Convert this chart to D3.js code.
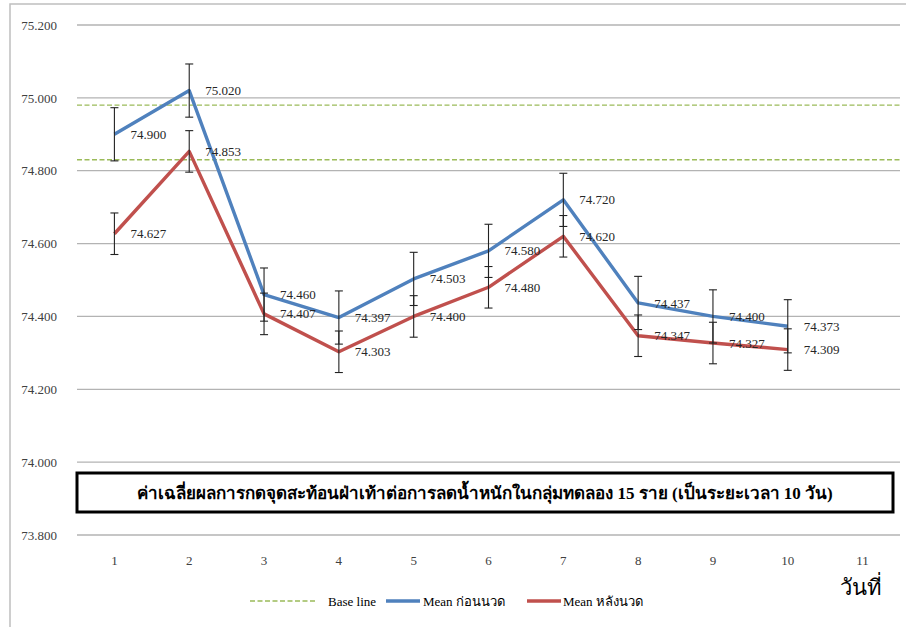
<!DOCTYPE html>
<html><head><meta charset="utf-8">
<script src="https://cdn.jsdelivr.net/npm/d3@7"></script>
<style>
html,body{margin:0;padding:0;background:#fff;}
svg{display:block;}
text{font-family:"Liberation Serif","Times New Roman",serif;}
</style></head>
<body>
<svg id="chart" width="906" height="627"></svg>
<script>
const days = ["1","2","3","4","5","6","7","8","9","10","11"];
const meanBefore = [74.900, 75.020, 74.460, 74.397, 74.503, 74.580, 74.720, 74.437, 74.400, 74.373];
const meanAfter  = [74.627, 74.853, 74.407, 74.303, 74.400, 74.480, 74.620, 74.347, 74.327, 74.309];
const errBefore  = [0.073, 0.073, 0.073, 0.073, 0.073, 0.073, 0.073, 0.073, 0.073, 0.073];
const errAfter   = [0.057, 0.057, 0.057, 0.057, 0.057, 0.057, 0.057, 0.057, 0.057, 0.057];
const baseLines  = [74.98, 74.83];
const yTicks     = [73.8, 74.0, 74.2, 74.4, 74.6, 74.8, 75.0, 75.2];
const titleText  = "ค่าเฉลี่ยผลการกดจุดสะท้อนฝ่าเท้าต่อการลดน้ำหนักในกลุ่มทดลอง 15 ราย (เป็นระยะเวลา 10 วัน)";
const xTitle     = "วันที่";
const legendNames = ["Base line", "Mean ก่อนนวด", "Mean หลังนวด"];

const colors = {base:"#9BBB59", before:"#4F81BD", after:"#C0504D"};
const svg = d3.select("#chart");

// outer border
svg.append("rect").attr("x",10).attr("y",4).attr("width",910).attr("height",640)
  .attr("fill","none").attr("stroke","#bfbfbf").attr("stroke-width",1.5);

const x = d3.scaleBand().domain(days).range([77, 900]);
const y = d3.scaleLinear().domain([73.8, 75.2]).range([535, 25]);
const cx = d => x(d) + x.bandwidth()/2;

// gridlines
svg.append("g").selectAll("line").data(yTicks).join("line")
  .attr("x1",77).attr("x2",900).attr("y1",d=>y(d)).attr("y2",d=>y(d))
  .attr("stroke","#b3b3b3").attr("stroke-width",1.3);

// y axis labels
const yAxis = d3.axisLeft(y).tickValues(yTicks).tickFormat(d3.format(".3f")).tickSize(0).tickPadding(0);
const gy = svg.append("g").attr("transform","translate(57,0)").call(yAxis);
gy.select(".domain").remove();
gy.selectAll("text").attr("font-size",13).attr("fill","#404040")
  .style("font-family","'Liberation Serif',serif");

// x axis labels
const xAxis = d3.axisBottom(x).tickSize(0).tickPadding(0);
const gx = svg.append("g").attr("transform","translate(0,556)").call(xAxis);
gx.select(".domain").remove();
gx.selectAll("text").attr("font-size",13).attr("fill","#404040")
  .style("font-family","'Liberation Serif',serif");

// base lines
svg.append("g").selectAll("line").data(baseLines).join("line")
  .attr("x1",77).attr("x2",900).attr("y1",d=>y(d)).attr("y2",d=>y(d))
  .attr("stroke",colors.base).attr("stroke-width",1.4).attr("stroke-dasharray","5,2.5");

// series
const series = [
  {vals:meanBefore, err:errBefore, color:colors.before},
  {vals:meanAfter, err:errAfter, color:colors.after}
];
const line = d3.line().x((d,i)=>cx(days[i])).y(d=>y(d));
series.forEach(s=>{
  svg.append("path").datum(s.vals).attr("d",line).attr("fill","none")
    .attr("stroke",s.color).attr("stroke-width",3.4).attr("stroke-linejoin","round");
});
// error bars
series.forEach(s=>{
  const g = svg.append("g").attr("stroke","#222").attr("stroke-width",1.1);
  s.vals.forEach((v,i)=>{
    const xx = cx(days[i]);
    g.append("line").attr("x1",xx).attr("x2",xx).attr("y1",y(v+s.err[i])).attr("y2",y(v-s.err[i]));
    g.append("line").attr("x1",xx-4).attr("x2",xx+4).attr("y1",y(v+s.err[i])).attr("y2",y(v+s.err[i]));
    g.append("line").attr("x1",xx-4).attr("x2",xx+4).attr("y1",y(v-s.err[i])).attr("y2",y(v-s.err[i]));
  });
});
// data labels
series.forEach(s=>{
  svg.append("g").selectAll("text").data(s.vals).join("text")
    .attr("x",(d,i)=>cx(days[i])+16).attr("y",d=>y(d)).attr("dy","0.35em")
    .attr("font-size",13).attr("fill","#262626").text(d=>d3.format(".3f")(d));
});

// title box
svg.append("rect").attr("x",77).attr("y",473).attr("width",816).attr("height",39)
  .attr("fill","#fff").attr("stroke","#000").attr("stroke-width",3);
svg.append("text").attr("x",485).attr("y",493).attr("dy","0.35em").attr("text-anchor","middle")
  .attr("font-size",17).attr("font-weight","bold").attr("fill","#000").text(titleText);

// x title
svg.append("text").attr("x",861).attr("y",595).attr("text-anchor","middle")
  .attr("font-size",22).attr("fill","#000").text(xTitle);

// legend
const leg = svg.append("g");
leg.append("line").attr("x1",250).attr("x2",316).attr("y1",601).attr("y2",601)
  .attr("stroke",colors.base).attr("stroke-width",1.4).attr("stroke-dasharray","5,2.5");
leg.append("text").attr("x",328).attr("y",601).attr("dy","0.35em").attr("font-size",13).attr("fill","#000").text(legendNames[0]);
leg.append("line").attr("x1",386).attr("x2",420).attr("y1",601).attr("y2",601)
  .attr("stroke",colors.before).attr("stroke-width",3.4);
leg.append("text").attr("x",423).attr("y",601).attr("dy","0.35em").attr("font-size",13).attr("fill","#000").text(legendNames[1]);
leg.append("line").attr("x1",527).attr("x2",561).attr("y1",601).attr("y2",601)
  .attr("stroke",colors.after).attr("stroke-width",3.4);
leg.append("text").attr("x",563).attr("y",601).attr("dy","0.35em").attr("font-size",13).attr("fill","#000").text(legendNames[2]);
</script>
</body></html>
